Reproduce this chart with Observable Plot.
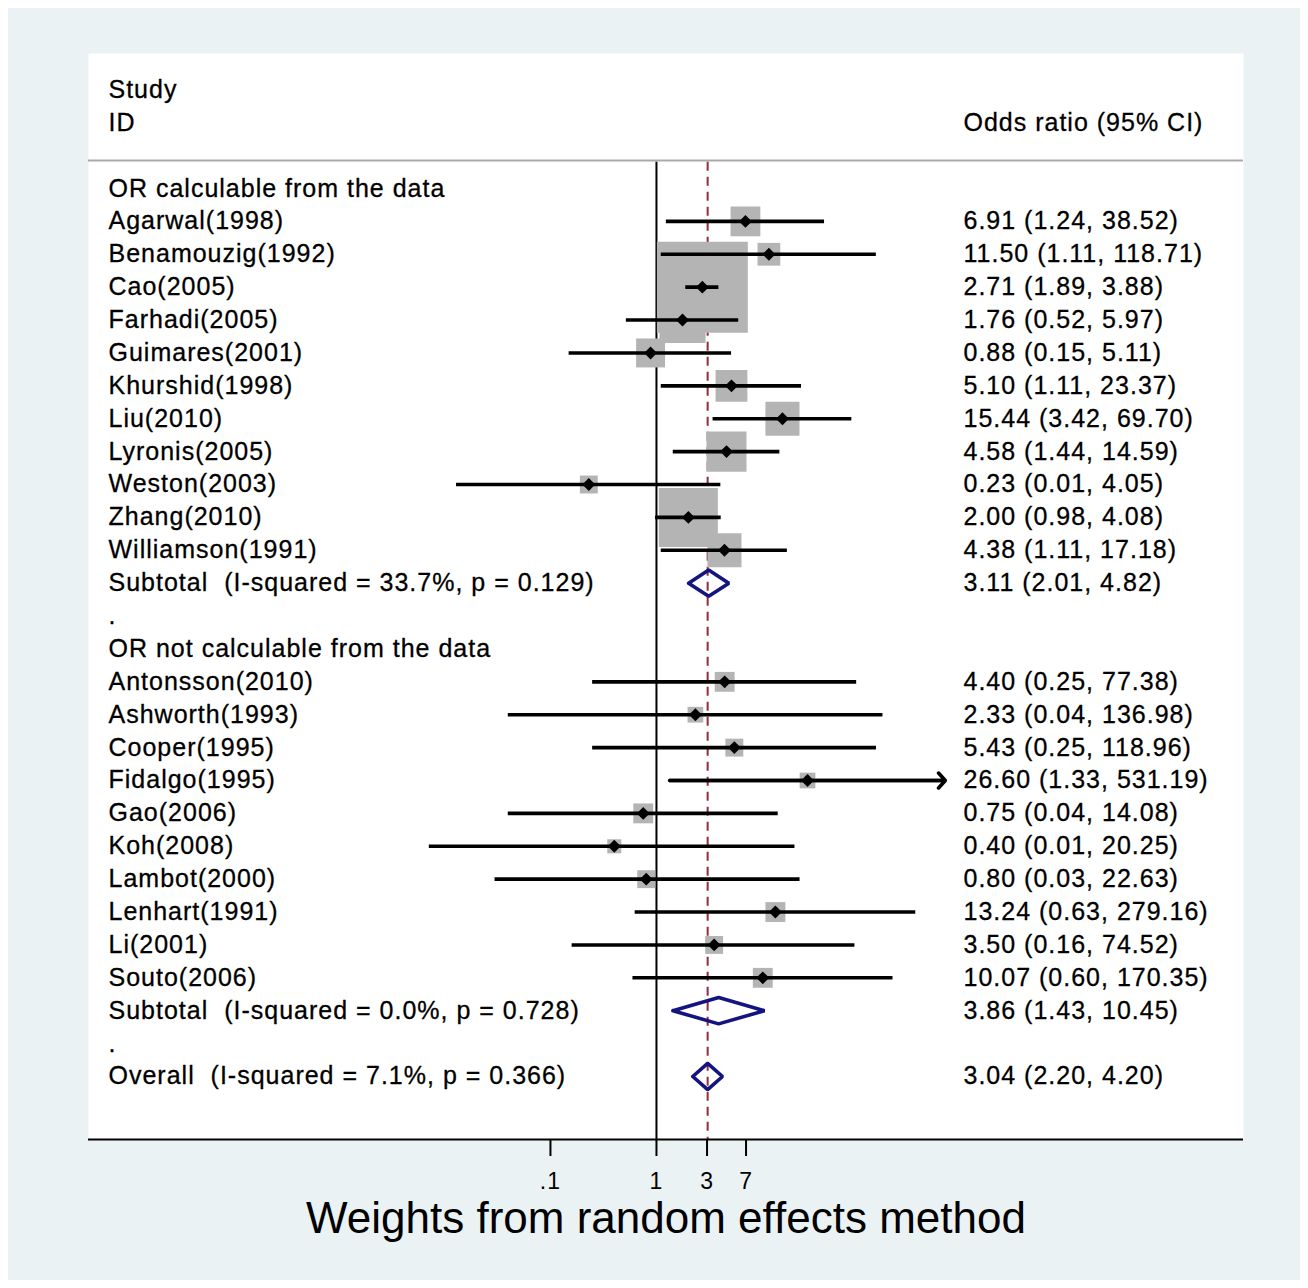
<!DOCTYPE html>
<html><head><meta charset="utf-8">
<script src="https://cdn.jsdelivr.net/npm/d3@7"></script>
<script src="https://cdn.jsdelivr.net/npm/@observablehq/plot@0.6"></script>
<style>
html,body{margin:0;padding:0;background:#fff;}
#chart{position:absolute;left:8px;top:8px;}
</style></head><body><div id="chart"></div>
<script>
// ---- data ----
const groupNames = ["OR calculable from the data", "OR not calculable from the data"];
const group1Studies = ["Agarwal(1998)", "Benamouzig(1992)", "Cao(2005)", "Farhadi(2005)", "Guimares(2001)", "Khurshid(1998)", "Liu(2010)", "Lyronis(2005)", "Weston(2003)", "Zhang(2010)", "Williamson(1991)"];
const group1OR = [6.91, 11.50, 2.71, 1.76, 0.88, 5.10, 15.44, 4.58, 0.23, 2.00, 4.38];
const group1Lo = [1.24, 1.11, 1.89, 0.52, 0.15, 1.11, 3.42, 1.44, 0.013, 0.98, 1.11];
const group1Hi = [38.52, 118.71, 3.88, 5.97, 5.11, 23.37, 69.70, 14.59, 4.05, 4.08, 17.18];
const group1Weight = [3.6, 2.1, 33.5, 8.6, 3.4, 4.1, 4.7, 6.5, 1.3, 14.1, 4.7];
const group2Studies = ["Antonsson(2010)", "Ashworth(1993)", "Cooper(1995)", "Fidalgo(1995)", "Gao(2006)", "Koh(2008)", "Lambot(2000)", "Lenhart(1991)", "Li(2001)", "Souto(2006)"];
const group2OR = [4.40, 2.33, 5.43, 26.60, 0.75, 0.40, 0.80, 13.24, 3.50, 10.07];
const group2Lo = [0.25, 0.04, 0.25, 1.33, 0.04, 0.0072, 0.03, 0.63, 0.16, 0.60];
const group2Hi = [77.38, 136.98, 118.96, 531.19, 14.08, 20.25, 22.63, 279.16, 74.52, 170.35];
const group2Weight = [1.6, 1.0, 1.3, 1.0, 1.6, 0.8, 1.3, 1.6, 1.3, 1.6];
const summaryLabels = ["Subtotal  (I-squared = 33.7%, p = 0.129)", "Subtotal  (I-squared = 0.0%, p = 0.728)", "Overall  (I-squared = 7.1%, p = 0.366)"];
const summaryOR = [3.11, 3.86, 3.04];
const summaryLo = [2.01, 1.43, 2.20];
const summaryHi = [4.82, 10.45, 4.20];
const xTicks = [0.1, 1, 3, 7];
const xTickLabels = [".1", "1", "3", "7"];
const headerLeft = ["Study", "ID"];
const headerRight = "Odds ratio (95% CI)";
const xTitle = "Weights from random effects method";
const arrowLimit = 500; // CIs beyond the axis limit end in an arrow

// ---- build the table of rows ----
const fmt = v => v.toFixed(2);
const rows = [];
let r = 0;
function addGroup(name, st, or, lo, hi, w, si) {
  rows.push({row: r++, label: name, kind: "header"});
  st.forEach((s, i) => rows.push({row: r++, label: s, kind: "study", est: or[i], lo: lo[i], hi: hi[i], weight: w[i],
    ci: `${fmt(or[i])} (${fmt(lo[i])}, ${fmt(hi[i])})`}));
  rows.push({row: r++, label: summaryLabels[si], kind: "summary", est: summaryOR[si], lo: summaryLo[si], hi: summaryHi[si],
    ci: `${fmt(summaryOR[si])} (${fmt(summaryLo[si])}, ${fmt(summaryHi[si])})`});
  rows.push({row: r++, label: ".", kind: "dot"});
}
addGroup(groupNames[0], group1Studies, group1OR, group1Lo, group1Hi, group1Weight, 0);
addGroup(groupNames[1], group2Studies, group2OR, group2Lo, group2Hi, group2Weight, 1);
rows.push({row: r++, label: summaryLabels[2], kind: "summary", est: summaryOR[2], lo: summaryLo[2], hi: summaryHi[2],
  ci: `${fmt(summaryOR[2])} (${fmt(summaryLo[2])}, ${fmt(summaryHi[2])})`});

const studyRows = rows.filter(d => d.kind === "study");
const summaryRows = rows.filter(d => d.kind === "summary");
const overall = summaryRows[summaryRows.length - 1];
const dh = 0.4;
const diamonds = summaryRows.flatMap((d, i) => [
  {k: i, x: d.lo, y: d.row}, {k: i, x: d.est, y: d.row - dh}, {k: i, x: d.hi, y: d.row},
  {k: i, x: d.est, y: d.row + dh}, {k: i, x: d.lo, y: d.row}
]);

const yTop = -4.105, yBottom = 28.916, yLineTop = -0.8, ySep = -0.851;
const headerRows = headerLeft.map((t, i) => ({row: -3 + i, label: t}));

const W = 1292, H = 1272;
const FS = 25;
const txt = {textAnchor: "start", fontSize: FS, frameAnchor: "left", fill: "black", stroke: "black", strokeWidth: 0.3, paintOrder: "stroke"};
const chart = Plot.plot({
  width: W, height: H,
  marginLeft: 80, marginRight: 57, marginTop: 45, marginBottom: 141,
  style: {background: "#eaf2f3", fontFamily: "'Liberation Sans', Arial, sans-serif", color: "black", overflow: "visible"},
  x: {type: "log", domain: [Math.pow(10, -5.358), Math.pow(10, 5.538)], axis: null},
  y: {domain: [yTop, yBottom], reverse: true, axis: null},
  r: {type: "sqrt", domain: [0, 33.5], range: [0, 51.3]},
  marks: [
    Plot.frame({fill: "white", stroke: "none"}),
    Plot.ruleY([ySep], {stroke: "#a9a9a9", strokeWidth: 2}),
    Plot.ruleX([1], {y1: yLineTop, y2: yBottom, stroke: "black", strokeWidth: 2}),
    Plot.ruleX([overall.est], {y1: yLineTop, y2: yBottom, stroke: "#902d3e", strokeWidth: 2, strokeDasharray: "9,6"}),
    Plot.dot(studyRows, {x: "est", y: "row", r: "weight", symbol: "square", fill: "#b4b4b4"}),
    Plot.ruleY(studyRows, {y: "row", x1: "lo", x2: "hi", stroke: "black", strokeWidth: 3.6}),
    Plot.arrow(studyRows.filter(d => d.hi >= arrowLimit), {x1: "lo", x2: "hi", y1: "row", y2: "row", stroke: "black", strokeWidth: 3.6, headLength: 4.2, headAngle: 95}),
    Plot.dot(studyRows, {x: "est", y: "row", symbol: "diamond2", r: 5.8, fill: "black"}),
    Plot.line(diamonds, {x: "x", y: "y", z: "k", stroke: "#141480", strokeWidth: 3.6, strokeLinejoin: "miter"}),
    Plot.ruleY([yBottom], {stroke: "black", strokeWidth: 2}),
    Plot.axisX({ticks: xTicks, tickFormat: (d) => xTickLabels[xTicks.indexOf(d)], tickSize: 17, tickPadding: 16, fontSize: 23, strokeWidth: 2, label: null}),
    Plot.text(headerRows, {...txt, y: "row", text: "label", dx: 20}),
    Plot.text([headerRight], {...txt, y: [-2], text: d => d, dx: 875}),
    Plot.text(rows, {...txt, y: "row", text: "label", dx: 20}),
    Plot.text(rows.filter(d => d.ci), {...txt, y: "row", text: "ci", dx: 875}),
    Plot.text([xTitle], {frameAnchor: "bottom", lineAnchor: "middle", dy: 79, fontSize: 44, text: d => d})
  ]
});
chart.querySelectorAll("text").forEach(t => {
  if (t.textContent !== xTitle) t.style.letterSpacing = "1px";
});
document.getElementById("chart").appendChild(chart);
</script></body></html>
